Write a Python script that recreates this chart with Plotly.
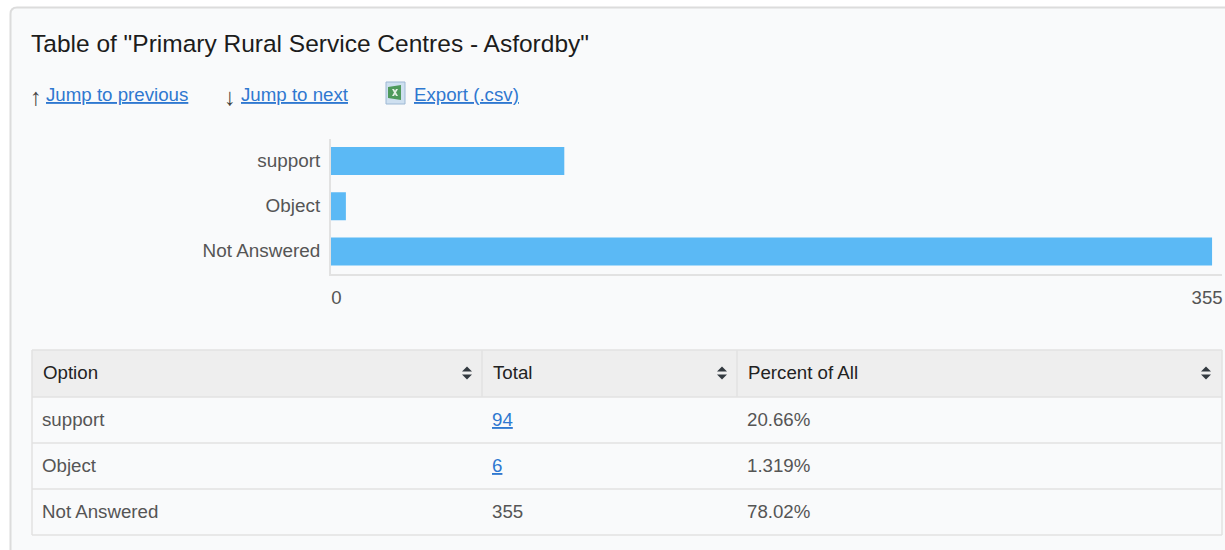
import plotly.graph_objects as go

categories = ["support", "Object", "Not Answered"]
totals = [94, 6, 355]
percents = ["20.66%", "1.319%", "78.02%"]
linked = [True, True, False]
headers = ["Option", "Total", "Percent of All"]
title_text = 'Table of "Primary Rural Service Centres - Asfordby"'

W, H = 1225, 550
FONT = "Liberation Sans"
TXT = "#555555"
DARK = "#1c1c1c"
LINK = "#2f78d0"
BAR = "#5bb9f5"
LINE = "#e2e2e2"

def px(x): return x / W
def py(y): return 1 - y / H

shapes = []
anns = []

def rect(x0, y0, x1, y1, fill, line=None, lw=1):
    shapes.append(dict(type="rect", xref="paper", yref="paper", x0=px(x0), x1=px(x1),
                       y0=py(y0), y1=py(y1), fillcolor=fill, layer="below",
                       line=dict(color=line or fill, width=lw if line else 0)))

def text(x, y, s, size=18.7, color=TXT, anchor="left"):
    anns.append(dict(xref="paper", yref="paper", x=px(x), y=py(y), text=s, showarrow=False,
                     xanchor=anchor, yanchor="middle", align=anchor, borderpad=0, borderwidth=0,
                     font=dict(family=FONT, size=size, color=color)))

def path(points, fill):
    d = "M " + " L ".join(f"{px(a):.5f},{py(b):.5f}" for a, b in points) + " Z"
    shapes.append(dict(type="path", xref="paper", yref="paper", path=d, fillcolor=fill,
                       line=dict(width=0), layer="above"))

shapes.append(dict(type="path", xref="paper", yref="paper", layer="below", fillcolor="#f9fafb",
                   line=dict(color="#dcdcdc", width=2),
                   path=f"M {px(10.5)},{py(560)} L {px(10.5)},{py(14)} Q {px(10.5)},{py(7.5)} {px(17)},{py(7.5)} L {px(1240)},{py(7.5)} L {px(1240)},{py(560)} Z"))

text(31, 44, title_text, size=24.5, color=DARK)
text(30, 96, "↑", size=24, color="#444444")
text(46, 94.5, "<u>Jump to previous</u>", color=LINK)
text(224, 96, "↓", size=24, color="#444444")
text(241, 94.5, "<u>Jump to next</u>", color=LINK)
text(414, 94.5, "<u>Export (.csv)</u>", color=LINK)

rect(386, 82, 405, 104, "#cfe0f0", "#9db8d4", 1)
path([(388, 87), (401, 85), (401, 100), (388, 98)], "#4f9a5c")
path([(392, 89), (394, 89), (398, 96), (396, 96)], "#e6f0e6")
path([(396, 89), (398, 89), (394, 96), (392, 96)], "#e6f0e6")

TX = [32, 482, 737, 1222]
TY = [350, 397, 443, 489, 535]
rect(TX[0], TY[0], TX[3], TY[1], "#eeeeee")
for xv in TX:
    y_end = TY[1] if xv in TX[1:3] else TY[4]
    shapes.append(dict(type="line", xref="paper", yref="paper", x0=px(xv), x1=px(xv),
                       y0=py(TY[0]), y1=py(y_end), line=dict(color=LINE, width=1.5)))
for yv in TY:
    shapes.append(dict(type="line", xref="paper", yref="paper", x0=px(TX[0]), x1=px(TX[3]),
                       y0=py(yv), y1=py(yv), line=dict(color=LINE, width=1.5)))

COLTEXT = [42, 492, 746.5]
for cx, h in zip([42.5, 493, 748], headers):
    text(cx, 372.5, h, color="#222222")
for xr in [467, 722, 1206]:
    path([(xr - 5, 371.5), (xr + 5, 371.5), (xr, 366.5)], "#333a40")
    path([(xr - 5, 374.5), (xr + 5, 374.5), (xr, 379.5)], "#333a40")

for i, c in enumerate(categories):
    yc = (TY[i + 1] + TY[i + 2]) / 2 - 1
    text(COLTEXT[0], yc, c)
    t = str(totals[i])
    text(COLTEXT[1], yc, f"<u>{t}</u>" if linked[i] else t, color=LINK if linked[i] else TXT)
    text(COLTEXT[2], yc, percents[i])

fig = go.Figure(go.Bar(x=totals, y=categories, orientation="h", width=0.62,
                       marker=dict(color=BAR, line=dict(width=0)), hoverinfo="skip"))

fig.update_layout(
    width=W, height=H, margin=dict(l=0, r=0, t=0, b=0, pad=0, autoexpand=False), autosize=False,
    paper_bgcolor="#ffffff", plot_bgcolor="rgba(0,0,0,0)", showlegend=False,
    shapes=shapes, annotations=anns,
    font=dict(family=FONT, size=18.7, color=TXT),
    xaxis=dict(domain=[px(331), px(1222)], range=[0, 359], tickmode="array",
               tickvals=[0, 355], ticktext=["\u00a0\u00a0\u00a0\u00a00", "355"], ticklabelshift=-5,
               showgrid=False, zeroline=False, showline=True, linecolor=LINE, linewidth=2,
               ticks="outside", ticklen=6, tickcolor="rgba(0,0,0,0)", anchor="y",
               ticklabeloverflow="allow", automargin=False,
               tickfont=dict(family=FONT, size=18.6, color=TXT)),
    yaxis=dict(domain=[py(274), py(138.5)], autorange="reversed", type="category",
               showgrid=False, zeroline=False, showline=True, linecolor=LINE, linewidth=2,
               ticks="outside", ticklen=5, tickcolor="rgba(0,0,0,0)", anchor="x", automargin=False,
               ticklabelshift=1,
               tickfont=dict(family=FONT, size=18.9, color=TXT)),
)

fig.write_html("out.html", config=dict(displayModeBar=False),
               post_script="document.body.style.margin='0';document.body.style.overflow='hidden';")
